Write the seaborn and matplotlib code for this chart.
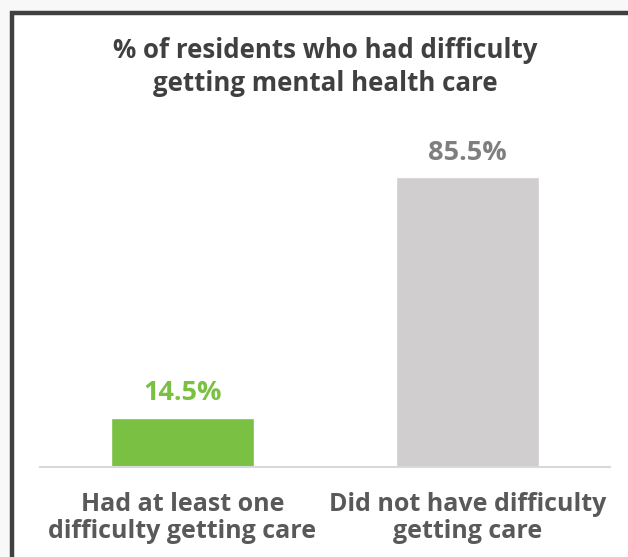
import matplotlib
matplotlib.use("Agg")
import matplotlib.pyplot as plt
import seaborn as sns
import pandas as pd
from matplotlib.patches import Rectangle

categories = ["Had at least one\ndifficulty getting care", "Did not have difficulty\ngetting care"]
values = [14.5, 85.5]
value_labels = ["14.5%", "85.5%"]
bar_colors = ["#7ac143", "#d0cece"]
label_colors = ["#7ac143", "#7f7f7f"]
title = "% of residents who had difficulty\ngetting mental health care"

sns.set_theme(style="white")
plt.rcParams['font.family'] = ['Open Sans', 'DejaVu Sans']

W, H = 628, 557
fig = plt.figure(figsize=(W / 100, H / 100), dpi=100)
fig.patch.set_facecolor("#f8f8f8")

# background axes with white panel and dark frame on left/top
bg = fig.add_axes([0, 0, 1, 1], zorder=-1)
bg.set_xlim(0, W)
bg.set_ylim(H, 0)
bg.axis("off")
bg.add_patch(Rectangle((11.5, 12.5), W + 20, H + 20, facecolor="white",
                       edgecolor="#404040", linewidth=3.2))

ax_left, ax_right = 40, 610
ax_bottom, ax_top = 467, 128
ax = fig.add_axes([ax_left / W, 1 - ax_bottom / H, (ax_right - ax_left) / W, (ax_bottom - ax_top) / H])
ax.set_facecolor("none")

df = pd.DataFrame({"category": categories, "value": values})
sns.barplot(data=df, x="category", y="value", hue="category", palette=bar_colors,
            width=0.5, legend=False, ax=ax, saturation=1)

ax.set_xlim(-0.5, 1.5)
ax.set_ylim(0, 100)
for i, (v, lab, c) in enumerate(zip(values, value_labels, label_colors)):
    ax.annotate(lab, (i, v), xytext=(0, 12.5), textcoords="offset points",
                ha="center", va="baseline", fontsize=19.5, fontweight="bold", color=c)

for s in ["top", "right", "left"]:
    ax.spines[s].set_visible(False)
ax.spines["bottom"].set_color("#d9d9d9")
ax.spines["bottom"].set_linewidth(1.5)
ax.set_yticks([])
ax.set_xlabel("")
ax.set_ylabel("")
ax.tick_params(axis="x", length=0, pad=18)
for t in ax.get_xticklabels():
    t.set_fontsize(18)
    t.set_fontweight("bold")
    t.set_color("#595959")
    t.set_linespacing(1.12)

for k, line in enumerate(title.split("\n")):
    fig.text(325 / W, 1 - (58 + 33 * k) / H, line, ha="center", va="baseline", fontsize=18.6,
             fontweight="bold", color="#404040")

fig.savefig("out.png", dpi=100, facecolor=fig.get_facecolor())
